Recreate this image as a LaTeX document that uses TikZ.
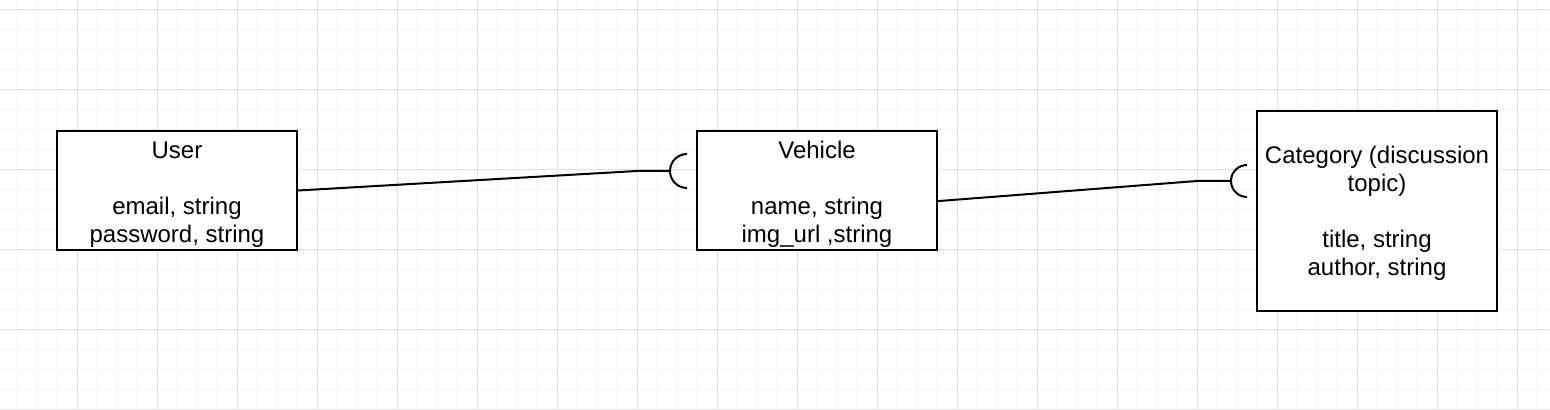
\documentclass[tikz,border=0pt]{standalone}
\usepackage{fontspec}
\setmainfont{Liberation Sans}
\definecolor{gridminor}{HTML}{F4F4F4}
\definecolor{gridmajor}{HTML}{E0E0E0}

\begin{document}
\begin{tikzpicture}[x=0.5pt,y=-0.5pt]
\tikzset{entity/.style={draw,line width=1pt,fill=white,align=center,minimum width=120pt,
  inner ysep=0pt,font=\fontsize{12}{14}\selectfont}}
\tikzset{link/.style={line width=1pt}}
\useasboundingbox[fill=white] (0,0) rectangle (1550,410);
\foreach \x in {17,37,...,1537} \draw[gridminor,line width=0.5pt] (\x,0) -- (\x,410);
\foreach \y in {10,30,...,410} \draw[gridminor,line width=0.5pt] (0,\y) -- (1550,\y);
\foreach \x in {77,157,...,1517} \draw[gridmajor,line width=0.5pt] (\x,0) -- (\x,410);
\foreach \y in {10,90,...,410} \draw[gridmajor,line width=0.5pt] (0,\y) -- (1550,\y);
\node[entity,minimum height=59.5pt] (user) at (177,190.5) {\rule{0pt}{12pt}User\\[14pt]email, string\\password, string};
\node[entity,minimum height=59.5pt] (vehicle) at (817,190.5) {\rule{0pt}{12pt}Vehicle\\[14pt]name, string\\img\_url ,string};
\node[entity,minimum height=100pt] (category) at (1377,211) {\rule{0pt}{11pt}Category (discussion\\topic)\\[14pt]title, string\\author, string};
\coordinate (bend1) at (637,171);
\coordinate (cup1) at (670,171);
\coordinate (bend2) at (1197,181);
\coordinate (cup2) at (1230,181);
\draw[link] (user.east) -- (bend1) -- (cup1);
\draw[link] ([shift={(17,17)}]cup1) arc[start angle=90,end angle=270,radius=17];
\draw[link] ([yshift=-5.3pt]vehicle.east) -- (bend2) -- (cup2);
\draw[link] ([shift={(17,16)}]cup2) arc[start angle=90,end angle=270,radius=16];
\end{tikzpicture}
\end{document}
